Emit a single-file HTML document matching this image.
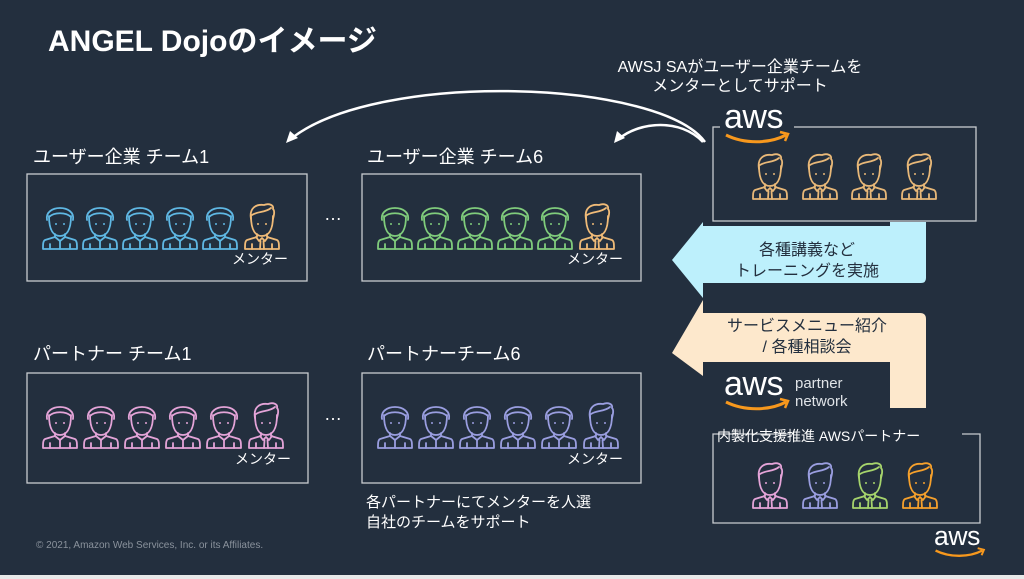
<!DOCTYPE html>
<html><head><meta charset="utf-8"><style>
html,body{margin:0;padding:0;background:#232f3e;}
svg{display:block}
text{font-family:"Liberation Sans","Noto Sans CJK JP",sans-serif;}
</style></head><body>
<svg width="1024" height="579" viewBox="0 0 1024 579" xmlns="http://www.w3.org/2000/svg">
<defs>
<g id="p" fill="none" stroke-width="1.8" stroke-linejoin="round" stroke-linecap="round">
  <path d="M5,17 C2,1 34,1 31,17"/>
  <path d="M7,13 C7,28 12,33 18,33 C24,33 29,28 29,13"/>
  <path d="M7,14 C12,9 24,9 29,14"/>
  <circle cx="14" cy="21" r="1" fill="currentColor" stroke="none"/>
  <circle cx="22" cy="21" r="1" fill="currentColor" stroke="none"/>
  <path d="M13,31 L13,34 L3,37 C1,38 1,41 1,46 L35,46 C35,41 35,38 33,37 L23,34 L23,31"/>
  <path d="M13,34 L18,38 L23,34"/>
  <path d="M8,41 L8,46 M28,41 L28,46 M18,38 L18,46"/>
</g>
<g id="m" fill="none" stroke-width="1.8" stroke-linejoin="round" stroke-linecap="round">
  <path d="M7,16 C5,5 12,1 20,2 C25,0 30,2 29,6 C31,8 30,12 29,16"/>
  <path d="M7,13 C7,28 12,33 18,33 C24,33 29,28 29,13"/>
  <path d="M8,12 C14,8 21,10 27,5"/>
  <circle cx="14" cy="21" r="1" fill="currentColor" stroke="none"/>
  <circle cx="22" cy="21" r="1" fill="currentColor" stroke="none"/>
  <path d="M13,31 L13,34 L3,37 C1,38 1,41 1,46 L35,46 C35,41 35,38 33,37 L23,34 L23,31"/>
  <path d="M12,34 L15,38 L18,35 L21,38 L24,34"/>
  <path d="M8,41 L8,46 M28,41 L28,46 M16.5,38 L16,46 M19.5,38 L20,46"/>
</g>
<g id="aws">
  <text x="0" y="27" font-size="34" fill="#fff" letter-spacing="-0.5">aws</text>
  <path d="M2,34 C20,43 45,43 62,34" fill="none" stroke="#f7981d" stroke-width="3"/>
  <path d="M56,31 L64,33 L61,40" fill="none" stroke="#f7981d" stroke-width="2.5"/>
</g>
</defs>

<text x="48" y="51" font-size="30" font-weight="bold" fill="#fff">ANGEL Dojoのイメージ</text>

<text x="740" y="72" font-size="16" fill="#fff" text-anchor="middle">AWSJ SAがユーザー企業チームを</text>
<text x="740" y="91" font-size="16" fill="#fff" text-anchor="middle">メンターとしてサポート</text>

<path d="M705,142 C660,80 380,70 292,138" fill="none" stroke="#fff" stroke-width="2.5"/>
<path d="M286,143 L290,131 L298,138 Z" fill="#fff"/>
<path d="M703,142 C680,118 640,122 620,138" fill="none" stroke="#fff" stroke-width="2.5"/>
<path d="M614,143 L617,131 L625,138 Z" fill="#fff"/>

<text x="33" y="163" font-size="18" fill="#fff">ユーザー企業 チーム1</text>
<text x="367" y="163" font-size="18" fill="#fff">ユーザー企業 チーム6</text>
<text x="33" y="360" font-size="18" fill="#fff">パートナー チーム1</text>
<text x="367" y="360" font-size="18" fill="#fff">パートナーチーム6</text>

<g fill="none" stroke="#c8ccd0" stroke-width="1.3">
<rect x="27" y="174" width="280" height="107"/>
<rect x="362" y="174" width="279" height="107"/>
<rect x="27" y="373" width="281" height="110"/>
<rect x="362" y="373" width="279" height="110"/>
<rect x="713" y="127" width="263" height="94"/>
<path d="M790,434 L713,434 L713,523 L980,523 L980,434 L962,434"/>
</g>

<text x="333" y="220" font-size="18" fill="#fff" text-anchor="middle">…</text>
<text x="333" y="420" font-size="18" fill="#fff" text-anchor="middle">…</text>

<g color="#5fb8e4" stroke="#5fb8e4">
<use href="#p" x="42" y="203"/><use href="#p" x="82" y="203"/><use href="#p" x="122" y="203"/><use href="#p" x="162" y="203"/><use href="#p" x="202" y="203"/>
</g>
<use href="#m" x="244" y="203" stroke="#f0bb78" color="#f0bb78"/>
<g color="#80cc7c" stroke="#80cc7c">
<use href="#p" x="377" y="203"/><use href="#p" x="417" y="203"/><use href="#p" x="457" y="203"/><use href="#p" x="497" y="203"/><use href="#p" x="537" y="203"/>
</g>
<use href="#m" x="579" y="203" stroke="#f0bb78" color="#f0bb78"/>
<text x="232" y="264" font-size="14" fill="#fff">メンター</text>
<text x="567" y="264" font-size="14" fill="#fff">メンター</text>

<g color="#e4a4d8" stroke="#e4a4d8">
<use href="#p" x="42" y="402"/><use href="#p" x="83" y="402"/><use href="#p" x="124" y="402"/><use href="#p" x="165" y="402"/><use href="#p" x="206" y="402"/><use href="#m" x="248" y="402"/>
</g>
<g color="#9a9ee0" stroke="#9a9ee0">
<use href="#p" x="377" y="402"/><use href="#p" x="418" y="402"/><use href="#p" x="459" y="402"/><use href="#p" x="500" y="402"/><use href="#p" x="541" y="402"/><use href="#m" x="583" y="402"/>
</g>
<text x="235" y="464" font-size="14" fill="#fff">メンター</text>
<text x="567" y="464" font-size="14" fill="#fff">メンター</text>

<text x="366" y="507" font-size="15" fill="#fff">各パートナーにてメンターを人選</text>
<text x="366" y="527" font-size="15" fill="#fff">自社のチームをサポート</text>
<text x="36" y="548" font-size="10" fill="#8a929c">© 2021, Amazon Web Services, Inc. or its Affiliates.</text>

<rect x="720" y="100" width="74" height="48" fill="#232f3e"/>
<use href="#aws" x="724" y="101"/>
<g color="#e8b878" stroke="#e8b878">
<use href="#m" x="752" y="153"/><use href="#m" x="802" y="153"/><use href="#m" x="851" y="153"/><use href="#m" x="901" y="153"/>
</g>

<path d="M672,260 L703,222 L703,226 L890,226 L890,222 L926,222 L926,278 Q926,283 921,283 L703,283 L703,298 Z" fill="#bdf0fc"/>
<text x="807" y="255" font-size="16" fill="#232f3e" text-anchor="middle">各種講義など</text>
<text x="807" y="276" font-size="16" fill="#232f3e" text-anchor="middle">トレーニングを実施</text>

<path d="M672,353 L703,300 L703,313 L920,313 Q926,313 926,319 L926,408 L890,408 L890,362 L703,362 L703,376 Z" fill="#fde8cc"/>
<text x="807" y="331" font-size="16" fill="#232f3e" text-anchor="middle">サービスメニュー紹介</text>
<text x="807" y="352" font-size="16" fill="#232f3e" text-anchor="middle">/ 各種相談会</text>

<use href="#aws" x="724" y="368"/>
<text x="795" y="388" font-size="15" fill="#e0e4e8">partner</text>
<text x="795" y="406" font-size="15" fill="#e0e4e8">network</text>

<text x="717" y="441" font-size="14" fill="#fff">内製化支援推進 AWSパートナー</text>
<use href="#m" x="752" y="462" stroke="#e4a4d8" color="#e4a4d8"/>
<use href="#m" x="802" y="462" stroke="#9a9ee0" color="#9a9ee0"/>
<use href="#m" x="852" y="462" stroke="#a6d46c" color="#a6d46c"/>
<use href="#m" x="902" y="462" stroke="#f5a02c" color="#f5a02c"/>
<g transform="translate(934,524) scale(0.78)"><use href="#aws"/></g>

<rect x="0" y="575" width="1024" height="4" fill="#e8e8e8"/>
</svg>
</body></html>
